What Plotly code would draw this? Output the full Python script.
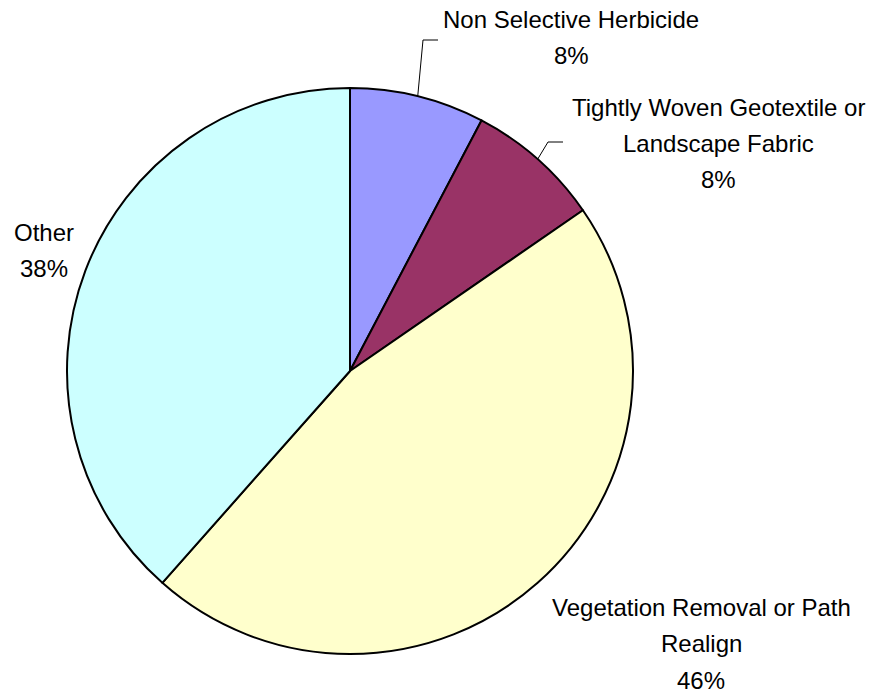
import math
import plotly.graph_objects as go

# Survey responses by treatment method
categories = [
    "Non Selective Herbicide",
    "Tightly Woven Geotextile or Landscape Fabric",
    "Vegetation Removal or Path Realign",
    "Other",
]
counts = [1, 1, 6, 5]
slice_colors = ["#9999FF", "#993366", "#FFFFCC", "#CCFFFF"]

# Label text broken over lines as displayed
label_lines = [
    ["Non Selective Herbicide"],
    ["Tightly Woven Geotextile or", "Landscape Fabric"],
    ["Vegetation Removal or Path", "Realign"],
    ["Other"],
]

W, H = 879, 693
cx, cy, r = 350, 371, 283  # pie centre and radius in pixels

total = sum(counts)
percents = [round(100 * c / total) for c in counts]

fig = go.Figure(
    go.Pie(
        labels=categories,
        values=counts,
        sort=False,
        direction="clockwise",
        rotation=0,
        textinfo="none",
        hoverinfo="label+percent",
        marker=dict(colors=slice_colors, line=dict(color="black", width=2)),
        domain=dict(
            x=[(cx - r) / W, (cx + r) / W],
            y=[1 - (cy + r) / H, 1 - (cy - r) / H],
        ),
        showlegend=False,
    )
)

# Label anchor positions (pixel centre x, first-line y)
label_pos = [(571, 19), (718, 107), (701, 607), (44, 232)]
line_gap = 36.5
font = dict(family="Liberation Sans, Arial, sans-serif", size=24, color="black")

annotations = []
for lines, pct, (lx, ly) in zip(label_lines, percents, label_pos):
    for i, t in enumerate(lines + [f"{pct}%"]):
        annotations.append(
            dict(
                x=lx / W, y=1 - (ly + i * line_gap) / H,
                xref="paper", yref="paper",
                text=t, showarrow=False, font=font,
                xanchor="center", yanchor="middle",
            )
        )

# Leader lines for the two small slices, from slice mid-angle on the rim
shapes = []
cum = 0
elbows = {0: ((423, 40), (438, 40)), 1: ((548, 142), (563, 142))}
for idx, c in enumerate(counts):
    mid = (cum + c / 2) / total * 2 * math.pi
    cum += c
    if idx in elbows:
        ex = cx + r * math.sin(mid)
        ey = cy - r * math.cos(mid)
        (bx, by), (tx, ty) = elbows[idx]
        pts = [(ex, ey), (bx, by), (tx, ty)]
        path = "M " + " L ".join(f"{x / W},{1 - y / H}" for x, y in pts)
        shapes.append(
            dict(type="path", path=path, xref="paper", yref="paper",
                 line=dict(color="black", width=1))
        )

fig.update_layout(
    width=W, height=H,
    margin=dict(l=0, r=0, t=0, b=0),
    paper_bgcolor="white",
    plot_bgcolor="white",
    annotations=annotations,
    shapes=shapes,
)

fig.write_html("out.html")
